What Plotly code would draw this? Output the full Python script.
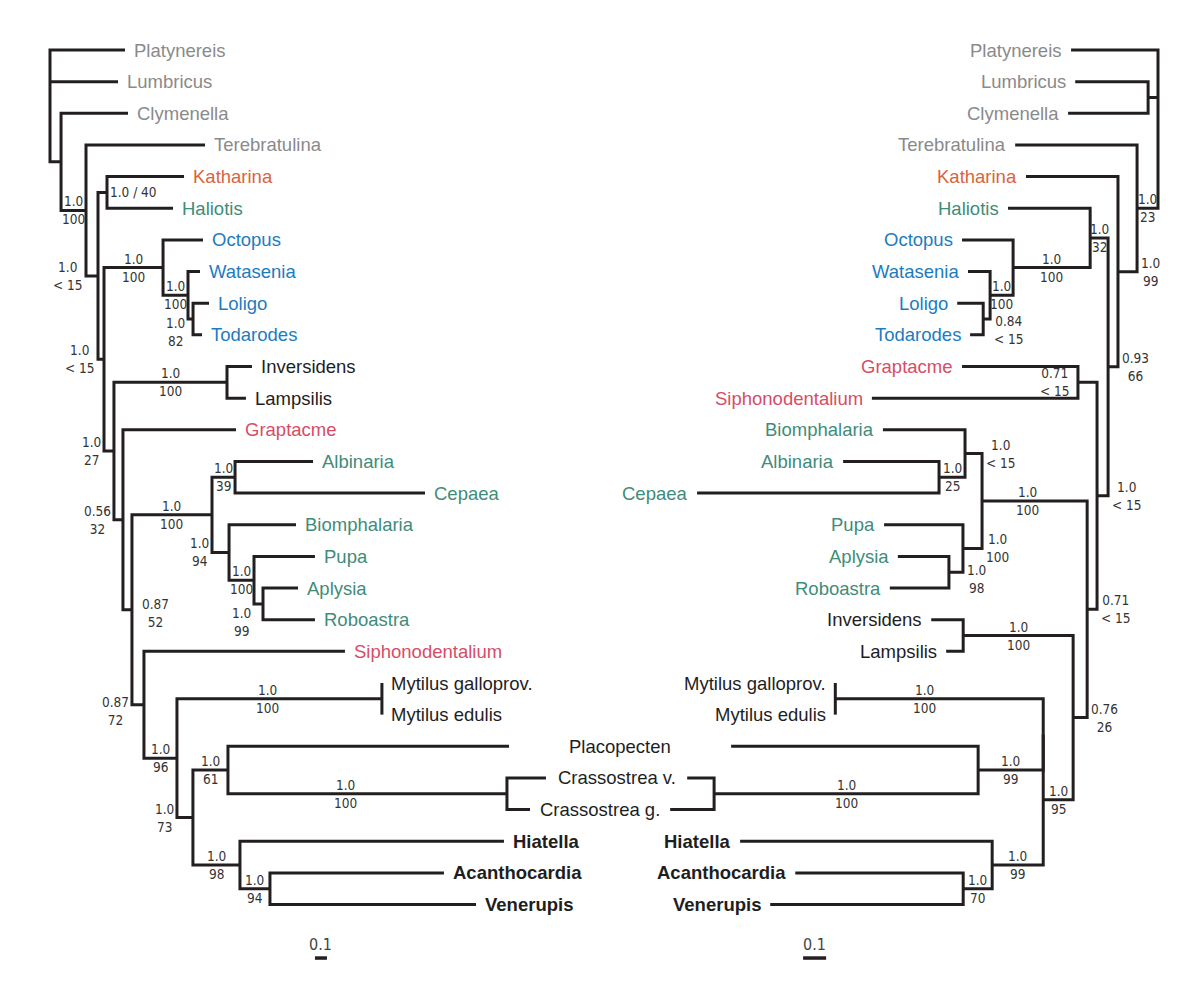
import plotly.graph_objects as go

# ---------------------------------------------------------------- data
# Trees as (node, parent, branch length in substitutions/site, support (posterior, bootstrap))
LEFT_TREE = [
    ("root", None, 0.0, None),
    ("Platynereis", "root", 0.625, None),
    ("Lumbricus", "root", 0.567, None),
    ("n1", "root", 0.092, None),
    ("Clymenella", "n1", 0.558, None),
    ("n2", "n1", 0.208, ("1.0", "100")),
    ("Terebratulina", "n2", 0.992, None),
    ("n3", "n2", 0.100, ("1.0", "< 15")),
    ("n4", "n3", 0.075, ("1.0 / 40",)),
    ("Katharina", "n4", 0.642, None),
    ("Haliotis", "n4", 0.550, None),
    ("n5", "n3", 0.050, ("1.0", "< 15")),
    ("ceph", "n5", 0.492, ("1.0", "100")),
    ("Octopus", "ceph", 0.333, None),
    ("n6", "ceph", 0.208, ("1.0", "100")),
    ("Watasenia", "n6", 0.100, None),
    ("n7", "n6", 0.042, ("1.0", "82")),
    ("Loligo", "n7", 0.133, None),
    ("Todarodes", "n7", 0.075, None),
    ("n8", "n5", 0.083, ("1.0", "27")),
    ("unio", "n8", 0.942, ("1.0", "100")),
    ("Inversidens", "unio", 0.208, None),
    ("Lampsilis", "unio", 0.158, None),
    ("n10", "n8", 0.075, ("0.56", "32")),
    ("Graptacme", "n10", 0.942, None),
    ("n11", "n10", 0.075, ("0.87", "52")),
    ("gastro", "n11", 0.667, ("1.0", "100")),
    ("n13", "gastro", 0.192, ("1.0", "39")),
    ("Albinaria", "n13", 0.650, None),
    ("Cepaea", "n13", 1.583, None),
    ("n14", "gastro", 0.142, ("1.0", "94")),
    ("Biomphalaria", "n14", 0.558, None),
    ("n15", "n14", 0.208, ("1.0", "100")),
    ("Pupa", "n15", 0.508, None),
    ("n16", "n15", 0.075, ("1.0", "99")),
    ("Aplysia", "n16", 0.292, None),
    ("Roboastra", "n16", 0.433, None),
    ("n17", "n11", 0.100, ("0.87", "72")),
    ("Siphonodentalium", "n17", 1.675, None),
    ("n18", "n17", 0.275, ("1.0", "96")),
    ("mytilus", "n18", 1.708, ("1.0", "100")),
    ("Mytilus galloprov.", "mytilus", 0.0, None),
    ("Mytilus edulis", "mytilus", 0.0, None),
    ("n20", "n18", 0.133, ("1.0", "73")),
    ("n21", "n20", 0.292, ("1.0", "61")),
    ("Placopecten", "n21", 2.342, None),
    ("crass", "n21", 2.325, ("1.0", "100")),
    ("Crassostrea v.", "crass", 0.325, None),
    ("Crassostrea g.", "crass", 0.192, None),
    ("n23", "n20", 0.392, ("1.0", "98")),
    ("Hiatella", "n23", 2.200, None),
    ("n24", "n23", 0.250, ("1.0", "94")),
    ("Acanthocardia", "n24", 1.450, None),
    ("Venerupis", "n24", 1.717, None),
]

RIGHT_TREE = [
    ("root", None, 0.0, None),
    ("Platynereis", "root", 0.378, None),
    ("r_lc", "root", 0.043, None),
    ("Lumbricus", "r_lc", 0.317, None),
    ("Clymenella", "r_lc", 0.348, None),
    ("ra", "root", 0.091, ("1.0", "23")),
    ("Terebratulina", "ra", 0.530, None),
    ("rb", "ra", 0.083, ("1.0", "99")),
    ("Katharina", "rb", 0.400, None),
    ("rc", "rb", 0.043, ("0.93", "66")),
    ("rd", "rc", 0.078, ("1.0", "32")),
    ("Haliotis", "rd", 0.357, None),
    ("rceph", "rd", 0.335, ("1.0", "100")),
    ("Octopus", "rceph", 0.222, None),
    ("rf", "rceph", 0.100, ("1.0", "100")),
    ("Watasenia", "rf", 0.096, None),
    ("rg", "rf", 0.030, ("0.84", "< 15")),
    ("Loligo", "rg", 0.113, None),
    ("Todarodes", "rg", 0.057, None),
    ("rh", "rc", 0.048, ("1.0", "< 15")),
    ("rscaph", "rh", 0.083, ("0.71", "< 15")),
    ("Graptacme", "rscaph", 0.504, None),
    ("Siphonodentalium", "rscaph", 0.896, None),
    ("rj", "rh", 0.043, ("0.71", "< 15")),
    ("rgastro", "rj", 0.457, ("1.0", "100")),
    ("rl", "rgastro", 0.074, ("1.0", "< 15")),
    ("Biomphalaria", "rl", 0.357, None),
    ("rm", "rl", 0.113, ("1.0", "25")),
    ("Albinaria", "rm", 0.417, None),
    ("Cepaea", "rm", 1.052, None),
    ("rn", "rgastro", 0.083, ("1.0", "100")),
    ("Pupa", "rn", 0.343, None),
    ("ro", "rn", 0.061, ("1.0", "98")),
    ("Aplysia", "ro", 0.222, None),
    ("Roboastra", "ro", 0.257, None),
    ("rp", "rj", 0.061, ("0.76", "26")),
    ("runio", "rp", 0.478, ("1.0", "100")),
    ("Inversidens", "runio", 0.139, None),
    ("Lampsilis", "runio", 0.074, None),
    ("rq", "rp", 0.130, ("1.0", "95")),
    ("rx", "rq", 0.0, None),
    ("rmyt", "rx", 0.904, ("1.0", "100")),
    ("Mytilus galloprov.", "rmyt", 0.0, None),
    ("Mytilus edulis", "rmyt", 0.0, None),
    ("rr", "rx", 0.283, ("1.0", "99")),
    ("Placopecten", "rr", 1.074, None),
    ("rcrass", "rr", 1.148, ("1.0", "100")),
    ("Crassostrea v.", "rcrass", 0.117, None),
    ("Crassostrea g.", "rcrass", 0.191, None),
    ("rs", "rq", 0.222, ("1.0", "99")),
    ("Hiatella", "rs", 1.096, None),
    ("rv", "rs", 0.126, ("1.0", "70")),
    ("Acanthocardia", "rv", 0.730, None),
    ("Venerupis", "rv", 0.839, None),
]

ANNELIDA_BRACHIOPODA = ["Platynereis", "Lumbricus", "Clymenella", "Terebratulina"]
POLYPLACOPHORA = ["Katharina"]
GASTROPODA = ["Haliotis", "Albinaria", "Cepaea", "Biomphalaria", "Pupa", "Aplysia", "Roboastra"]
CEPHALOPODA = ["Octopus", "Watasenia", "Loligo", "Todarodes"]
SCAPHOPODA = ["Graptacme", "Siphonodentalium"]
BOLD_TAXA = ["Hiatella", "Acanthocardia", "Venerupis"]
SHARED_LABELS = ["Placopecten", "Crassostrea v.", "Crassostrea g."]
SCALE_VALUE = 0.1
SCALE_TEXT = "0.1"

# ---------------------------------------------------------------- styles / layout
W, H = 1200, 992
TOP_PX, ROW_PX = 50.0, 31.65
LEFT_ROOT_PX, LEFT_PX_PER_UNIT = 50.0, 120.0
RIGHT_ROOT_PX, RIGHT_PX_PER_UNIT = 1158.0, 230.0
LINE_COLOR = "#231f20"
LINE_W = 3
LEAF_FONT = "Liberation Sans, Arial, Helvetica, sans-serif"
SUP_FONT = "Liberation Sans Narrow, Arial Narrow, DejaVu Sans Condensed, Liberation Sans, sans-serif"
LEAF_SIZE = 18.5
SUP_SIZE = 13.5
GROUP_COLORS = {
    "annelid": "#8a8a8a", "chiton": "#d8643d", "gastro": "#3f8c7a",
    "ceph": "#1c7cbf", "scaph": "#d64d66", "other": "#1e1e1e",
}
# support label placement: (kind, extra downward px, fraction along branch from parent)
LEFT_POS = {
    "n3": ("root", 0), "n4": ("inline", 0), "n5": ("root", 0), "n7": ("root", 13),
    "n8": ("root", 0), "n10": ("root", 0), "n11": ("child", 3), "n14": ("root", 0),
    "n16": ("root", 18), "n17": ("root", 6), "n20": ("root", 0),
    "mytilus": ("mid", 0, 0.44), "crass": ("mid", 0, 0.42),
}
RIGHT_POS = {
    "rb": ("root", 0), "rc": ("root", 0), "rg": ("root", 11), "rh": ("root", 0),
    "rscaph": ("child", 0), "rj": ("root", 0), "rl": ("root", 0), "rn": ("root", 0),
    "ro": ("root", 7), "rp": ("root", 0),
    "rgastro": ("mid", 0, 0.57), "rmyt": ("mid", 0, 0.57),
}
LEFT_SCALE_START = 2.208
RIGHT_SCALE_START = 1.443
SCALE_ROW = 28.69

XL_RANGE = [-LEFT_ROOT_PX / LEFT_PX_PER_UNIT, (W - LEFT_ROOT_PX) / LEFT_PX_PER_UNIT]
XR_RANGE = [RIGHT_ROOT_PX / RIGHT_PX_PER_UNIT, (RIGHT_ROOT_PX - W) / RIGHT_PX_PER_UNIT]
Y_RANGE = [(H - TOP_PX) / ROW_PX, -TOP_PX / ROW_PX]


def leaf_color(name):
    if name in ANNELIDA_BRACHIOPODA:
        return GROUP_COLORS["annelid"]
    if name in POLYPLACOPHORA:
        return GROUP_COLORS["chiton"]
    if name in GASTROPODA:
        return GROUP_COLORS["gastro"]
    if name in CEPHALOPODA:
        return GROUP_COLORS["ceph"]
    if name in SCAPHOPODA:
        return GROUP_COLORS["scaph"]
    return GROUP_COLORS["other"]


def build(rows):
    parent, length, support, children = {}, {}, {}, {}
    root = None
    for name, par, ln, sup in rows:
        parent[name], length[name], support[name] = par, ln, sup
        children.setdefault(name, [])
        if par is None:
            root = name
        else:
            children.setdefault(par, []).append(name)
    x, y, leaves = {}, {}, []

    def setx(n, base):
        x[n] = base
        for c in children[n]:
            setx(c, base + length[c])

    def sety(n):
        if not children[n]:
            y[n] = float(len(leaves))
            leaves.append(n)
        else:
            for c in children[n]:
                sety(c)
            y[n] = (y[children[n][0]] + y[children[n][-1]]) / 2.0

    setx(root, 0.0)
    sety(root)
    return dict(parent=parent, support=support, children=children, x=x, y=y, leaves=leaves)


def tree_lines(t):
    xs, ys = [], []
    x, y, ch = t["x"], t["y"], t["children"]
    for n, cs in ch.items():
        if not cs:
            continue
        a, b = cs[0], cs[-1]
        xs += [x[a], x[n], x[n], x[b], None]
        ys += [y[a], y[a], y[b], y[b], None]
        for c in cs[1:-1]:
            xs += [x[n], x[c], None]
            ys += [y[c], y[c], None]
    return xs, ys


def support_annotations(t, xref, pos, mirrored):
    anns = []
    x, y, par = t["x"], t["y"], t["parent"]
    for n, sup in t["support"].items():
        if not sup:
            continue
        spec = pos.get(n, ("mid", 0))
        kind, dy = spec[0], spec[1]
        frac = spec[2] if len(spec) > 2 else 0.5
        p = par[n]
        if kind == "mid":
            ax, anchor, xs = x[p] + frac * (x[n] - x[p]), "center", 0
        elif kind == "root":
            ax = x[p]
            anchor, xs = ("left", 2) if mirrored else ("right", -1)
        elif kind == "child":
            ax = x[n]
            anchor, xs = ("right", -6) if mirrored else ("left", 8)
        else:  # inline
            ax, anchor, xs = x[n], "left", 1
        anns.append(dict(
            x=ax, y=y[n], xref=xref, yref="y", text="<br>".join(sup),
            showarrow=False, xanchor=anchor, yanchor="middle", align="center",
            xshift=xs, yshift=-dy,
            font=dict(family=SUP_FONT, size=SUP_SIZE, color="#333333"),
        ))
    return anns


def leaf_text(name):
    return f"<b>{name}</b>" if name in BOLD_TAXA else name


def to_paper(v, rng):
    return (v - rng[0]) / (rng[1] - rng[0])


left = build(LEFT_TREE)
right = build(RIGHT_TREE)

fig = go.Figure()
lx, ly = tree_lines(left)
rx, ry = tree_lines(right)
fig.add_trace(go.Scatter(x=lx, y=ly, mode="lines", xaxis="x", yaxis="y",
                         line=dict(color=LINE_COLOR, width=LINE_W), hoverinfo="skip"))
fig.add_trace(go.Scatter(x=rx, y=ry, mode="lines", xaxis="x2", yaxis="y",
                         line=dict(color=LINE_COLOR, width=LINE_W), hoverinfo="skip"))

# scale bars
fig.add_trace(go.Scatter(x=[LEFT_SCALE_START, LEFT_SCALE_START + SCALE_VALUE], y=[SCALE_ROW, SCALE_ROW],
                         mode="lines", xaxis="x", yaxis="y",
                         line=dict(color=LINE_COLOR, width=3.5), hoverinfo="skip"))
fig.add_trace(go.Scatter(x=[RIGHT_SCALE_START, RIGHT_SCALE_START + SCALE_VALUE], y=[SCALE_ROW, SCALE_ROW],
                         mode="lines", xaxis="x2", yaxis="y",
                         line=dict(color=LINE_COLOR, width=3.5), hoverinfo="skip"))

anns = []
# leaf labels
for name in left["leaves"]:
    if name in SHARED_LABELS:
        continue
    anns.append(dict(x=left["x"][name], y=left["y"][name], xref="x", yref="y",
                     text=leaf_text(name), showarrow=False, xanchor="left", yanchor="middle",
                     xshift=7, font=dict(family=LEAF_FONT, size=LEAF_SIZE, color=leaf_color(name))))
for name in right["leaves"]:
    if name in SHARED_LABELS:
        continue
    anns.append(dict(x=right["x"][name], y=right["y"][name], xref="x2", yref="y",
                     text=leaf_text(name), showarrow=False, xanchor="right", yanchor="middle",
                     xshift=-7, font=dict(family=LEAF_FONT, size=LEAF_SIZE, color=leaf_color(name))))
for name in SHARED_LABELS:
    pl = to_paper(left["x"][name], XL_RANGE)
    pr = to_paper(right["x"][name], XR_RANGE)
    anns.append(dict(x=(pl + pr) / 2, y=left["y"][name], xref="paper", yref="y",
                     text=leaf_text(name), showarrow=False, xanchor="center", yanchor="middle",
                     font=dict(family=LEAF_FONT, size=LEAF_SIZE, color=leaf_color(name))))

anns += support_annotations(left, "x", LEFT_POS, mirrored=False)
anns += support_annotations(right, "x2", RIGHT_POS, mirrored=True)

# scale bar texts
for xv, xref in [(LEFT_SCALE_START + SCALE_VALUE / 2, "x"), (RIGHT_SCALE_START + SCALE_VALUE / 2, "x2")]:
    anns.append(dict(x=xv, y=SCALE_ROW, xref=xref, yref="y", text=SCALE_TEXT, showarrow=False,
                     xanchor="center", yanchor="bottom", yshift=2,
                     font=dict(family=SUP_FONT, size=16, color="#444444")))

fig.update_layout(
    width=W, height=H, margin=dict(l=0, r=0, t=0, b=0),
    paper_bgcolor="white", plot_bgcolor="white", showlegend=False,
    xaxis=dict(range=XL_RANGE, visible=False, domain=[0, 1], fixedrange=True),
    xaxis2=dict(range=XR_RANGE, visible=False, overlaying="x", fixedrange=True),
    yaxis=dict(range=Y_RANGE, visible=False, fixedrange=True),
    annotations=anns,
)

fig.write_html("out.html", config={"displayModeBar": False, "staticPlot": True},
               post_script="document.body.style.margin='0';")
